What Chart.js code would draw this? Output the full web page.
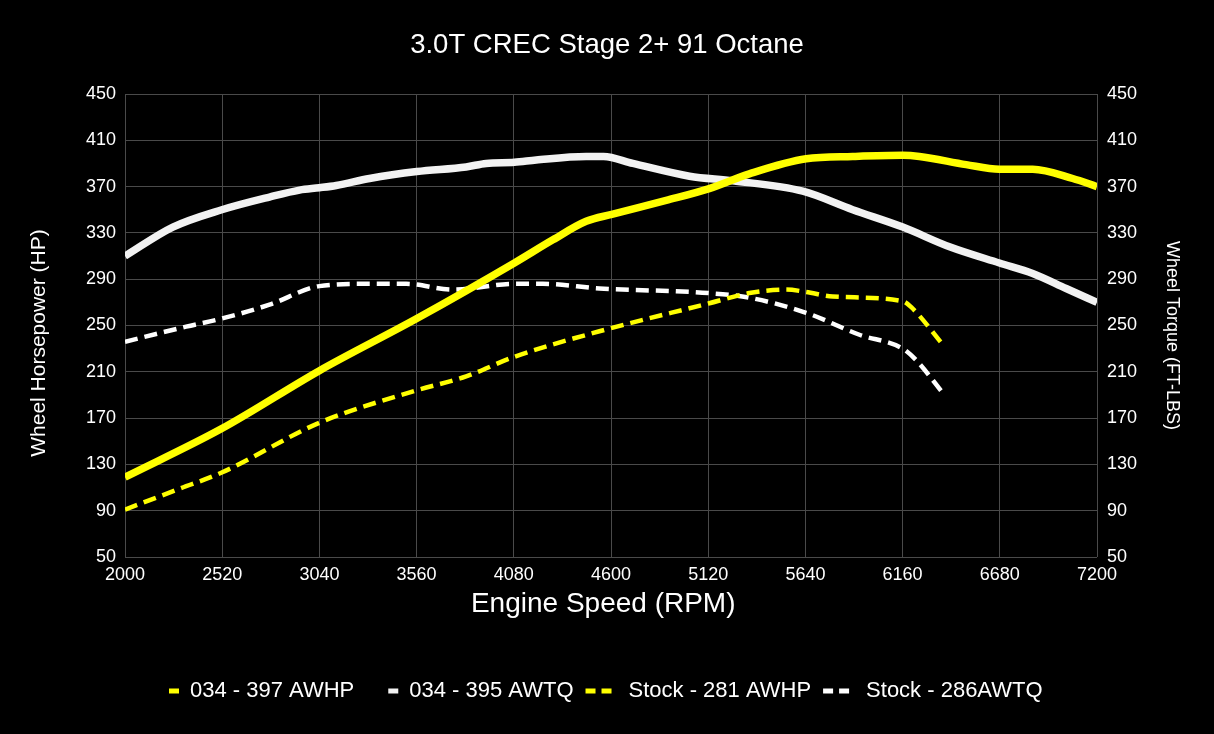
<!DOCTYPE html>
<html>
<head>
<meta charset="utf-8">
<script src="https://cdn.jsdelivr.net/npm/chart.js@4.4.1/dist/chart.umd.min.js"></script>
<style>
html, body { margin: 0; padding: 0; background: #000; }
#wrap { width: 1214px; height: 734px; }
</style>
</head>
<body>
<div id="wrap"><canvas id="myChart"></canvas></div>
<script>
// tick labels
var xTicks = [2000, 2520, 3040, 3560, 4080, 4600, 5120, 5640, 6160, 6680, 7200];
var yTicks = [50, 90, 130, 170, 210, 250, 290, 330, 370, 410, 450];

// 034 - wheel hp
var tunedHpRpm = [2000, 2518, 3040, 3561, 4083, 4289, 4467, 4604, 4895, 5121, 5340, 5644, 5893, 6161, 6250, 6500, 6678, 6856, 7070, 7200];
var tunedHp    = [119, 161, 211, 256, 304, 324, 340, 346, 358, 368, 381, 394, 396, 397, 396, 389, 385, 385, 377, 370];

// 034 - wheel torque
var tunedTqRpm = [2000, 2256, 2518, 2773, 2934, 3040, 3130, 3308, 3561, 3825, 3932, 4083, 4200, 4467, 4560, 4717, 5020, 5252, 5626, 5893, 6161, 6411, 6678, 6856, 7035, 7200];
var tunedTq    = [310, 335, 350, 361, 367, 369, 371, 377, 383, 387, 390, 391, 393, 396, 396, 390, 379, 375, 366, 350, 335, 318, 304, 295, 282, 270];

// stock - wheel hp
var stockHpRpm = [2000, 2292, 2518, 3040, 3561, 3825, 4083, 4538, 5121, 5340, 5536, 5644, 5786, 6161, 6205, 6383];
var stockHp    = [91, 109, 123, 166, 194, 206, 223, 245, 269, 278, 281, 279, 275, 271, 266, 232];

// stock - wheel torque
var stockTqRpm = [2000, 2327, 2518, 2773, 3040, 3308, 3504, 3754, 4083, 4235, 4538, 5121, 5340, 5644, 5929, 6161, 6233, 6383];
var stockTq    = [236, 249, 256, 268, 284, 286, 286, 281, 286, 286, 282, 278, 274, 261, 242, 230, 220, 190];

function pts(xs, ys) {
    return xs.map(function (x, i) { return { x: x, y: ys[i] }; });
}

Chart.defaults.font.family = '"Liberation Sans", Arial, sans-serif';
Chart.defaults.color = '#fff';

var gridColor = '#4a4a4a';
var nb = '\u00a0';

var data = {
    datasets: [{
        label: '034 - 397 AWHP',
        data: pts(tunedHpRpm, tunedHp),
        borderColor: '#ffff00',
        borderWidth: 7.5,
        yAxisID: 'y'
    }, {
        label: '034 - 395 AWTQ',
        data: pts(tunedTqRpm, tunedTq),
        borderColor: '#f2f2f2',
        borderWidth: 7.5,
        yAxisID: 'y2'
    }, {
        label: 'Stock - 281 AWHP',
        data: pts(stockHpRpm, stockHp),
        borderColor: '#ffff00',
        borderWidth: 4.5,
        borderDash: [13, 7],
        yAxisID: 'y'
    }, {
        label: 'Stock - 286AWTQ',
        data: pts(stockTqRpm, stockTq),
        borderColor: '#ffffff',
        borderWidth: 4.5,
        borderDash: [13, 7],
        yAxisID: 'y2'
    }]
};

var options = {
    responsive: true,
    maintainAspectRatio: false,
    animation: false,
    layout: { padding: { left: 0, right: 0, top: 0, bottom: 22 } },
    elements: {
        point: { radius: 0 },
        line: { tension: 0.4, cubicInterpolationMode: 'monotone', fill: false }
    },
    plugins: {
        title: {
            display: true,
            text: '3.0T CREC Stage 2+ 91 Octane',
            color: '#fff',
            font: { size: 27.5, weight: 'normal' },
            padding: { top: 29, bottom: 32 }
        },
        legend: {
            position: 'bottom',
            labels: {
                color: '#fff',
                font: { size: 22 },
                usePointStyle: true,
                pointStyleWidth: 32,
                padding: 12,
                generateLabels: function (chart) {
                    var items = Chart.defaults.plugins.legend.labels.generateLabels(chart);
                    items.forEach(function (it, i) {
                        it.pointStyle = 'line';
                        it.lineWidth = 5;
                        it.fontColor = '#fff';
                        if (i < 2) {
                            it.lineDash = [10, 100];
                            it.lineDashOffset = -22;
                        } else {
                            it.lineDash = [10, 6, 10, 100];
                            it.lineDashOffset = 0;
                        }
                    });
                    // balance the empty space in front of the first key
                    items[items.length - 1].text += nb.repeat(4);
                    return items;
                }
            }
        },
        tooltip: { enabled: false }
    },
    scales: {
        x: {
            type: 'linear',
            min: xTicks[0],
            max: xTicks[xTicks.length - 1],
            afterBuildTicks: function (s) { s.ticks = xTicks.map(function (v) { return { value: v }; }); },
            ticks: { color: '#fff', font: { size: 18 }, padding: 7, maxRotation: 0, autoSkip: false,
                callback: function (v) { return String(v); } },
            grid: { color: gridColor, drawTicks: false },
            border: { display: false },
            title: { display: true, text: 'Engine Speed (RPM)' + nb.repeat(2), color: '#fff', font: { size: 28 },
                padding: { top: 2, bottom: 47 } },
            afterFit: function (s) { s.height = 111; }
        },
        y: {
            position: 'left',
            min: yTicks[0],
            max: yTicks[yTicks.length - 1],
            afterBuildTicks: function (s) { s.ticks = yTicks.map(function (v) { return { value: v }; }); },
            ticks: { color: '#fff', font: { size: 18 }, padding: 9, callback: function (v) { return String(v); } },
            grid: { color: gridColor, drawTicks: false },
            border: { display: false },
            title: { display: true, text: 'Wheel Horsepower (HP)' + nb.repeat(6), color: '#fff', font: { size: 21 },
                padding: { top: 27, bottom: 0 } },
            afterFit: function (s) { s.width = 125; }
        },
        y2: {
            position: 'right',
            min: yTicks[0],
            max: yTicks[yTicks.length - 1],
            afterBuildTicks: function (s) { s.ticks = yTicks.map(function (v) { return { value: v }; }); },
            ticks: { color: '#fff', font: { size: 18 }, padding: 10, callback: function (v) { return String(v); } },
            grid: { display: false, drawTicks: false },
            border: { display: false },
            title: { display: true, text: nb.repeat(4) + 'Wheel Torque (FT-LBS)', color: '#fff', font: { size: 18 },
                padding: { top: 31, bottom: 0 } },
            afterFit: function (s) { s.width = 117; }
        }
    }
};

var ctx = document.getElementById('myChart').getContext('2d');
var myChart = new Chart(ctx, {
    type: 'line',
    data: data,
    options: options
});
</script>
</body>
</html>
